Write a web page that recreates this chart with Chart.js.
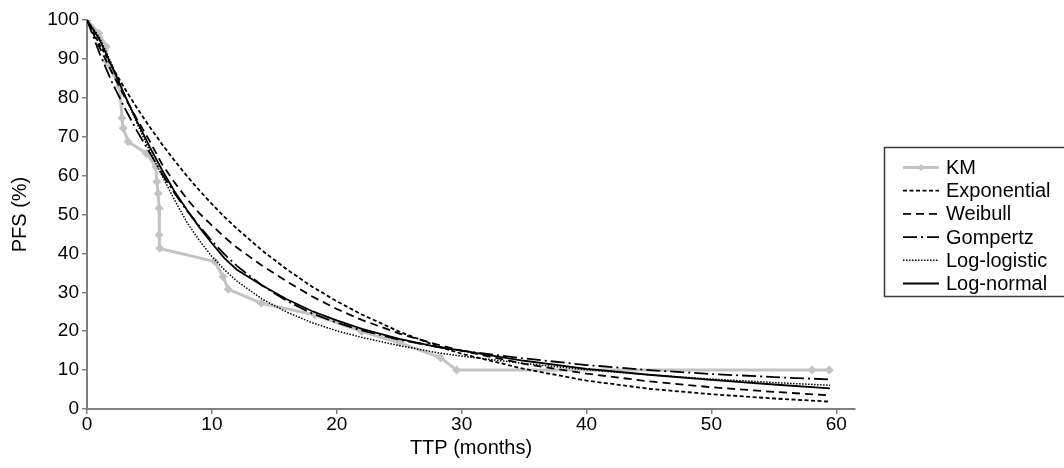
<!DOCTYPE html>
<html>
<head>
<meta charset="utf-8">
<title>PFS model fits</title>
<script src="https://cdn.jsdelivr.net/npm/chart.js@4.4.1/dist/chart.umd.min.js"></script>
<style>
  html, body { margin: 0; padding: 0; background: #ffffff; }
  #wrap { width: 1064px; height: 468px; position: relative; }
</style>
</head>
<body>
<div id="wrap"><canvas id="pfs"></canvas></div>
<script>
// Kaplan-Meier estimate (months, %)
const kmTime = [0, 0.95, 1.55, 1.57, 2.62, 2.8, 2.9, 3.3, 4.76, 5.5, 5.6, 5.7, 5.77, 5.77, 5.83, 10.23, 10.9, 11.3, 13.97, 18.25, 22.0, 25.05, 28.3, 29.6, 58.05, 59.45];
const kmPFS  = [100, 96.6, 93.1, 89.3, 82.9, 74.8, 72.2, 68.7, 65.7, 62.3, 58.4, 55.4, 51.6, 44.7, 41.3, 37.9, 34.0, 30.8, 27.2, 24.2, 19.9, 17.0, 13.2, 10.0, 10.0, 10.0];

// Time points at which the parametric fits are evaluated (months)
const fitTime = [0, 1, 2, 3, 4, 5, 6, 7, 8, 9, 10, 11, 12, 14, 16, 18, 20, 22, 25, 28, 30, 35, 40, 45, 50, 55, 59.5];

// Fitted PFS (%) for each parametric model
const exponentialPFS = [100, 93.8, 88.0, 82.5, 77.4, 72.6, 68.1, 63.9, 59.9, 56.2, 52.7, 49.4, 46.4, 40.8, 35.9, 31.5, 27.7, 24.3, 19.9, 16.2, 14.2, 10.3, 7.3, 5.2, 3.8, 2.7, 1.9];
const weibullPFS     = [100, 93.0, 86.5, 80.3, 74.5, 69.0, 63.0, 58.3, 54.0, 50.3, 47.2, 44.2, 41.5, 36.9, 32.8, 29.0, 25.7, 22.9, 19.4, 16.6, 15.0, 11.6, 9.1, 7.1, 5.6, 4.4, 3.5];
const gompertzPFS    = [100, 91.5, 84.0, 77.5, 71.5, 66.0, 60.5, 55.5, 51.0, 47.0, 43.2, 39.8, 36.8, 31.8, 27.8, 24.6, 22.2, 20.2, 17.8, 16.0, 15.0, 13.0, 11.3, 10.0, 9.0, 8.2, 7.6];
const logLogisticPFS = [100, 95.5, 88.5, 80.8, 73.5, 66.5, 60.0, 53.8, 48.0, 43.3, 39.2, 35.8, 32.9, 28.3, 24.9, 22.2, 20.1, 18.4, 16.3, 14.5, 13.6, 11.7, 10.1, 8.8, 7.7, 6.8, 6.1];
const logNormalPFS   = [100, 95.0, 88.0, 80.8, 74.0, 67.5, 61.5, 56.0, 51.2, 46.7, 42.6, 38.8, 35.8, 31.8, 28.2, 25.2, 22.8, 20.6, 18.0, 16.0, 15.0, 12.4, 10.3, 8.8, 7.5, 6.3, 5.3];

const xTicks = [0, 10, 20, 30, 40, 50, 60];
const yTicks = [0, 10, 20, 30, 40, 50, 60, 70, 80, 90, 100];

const FONT = '"Liberation Sans", Arial, Helvetica, sans-serif';
const AXIS_GREY = '#808080';

function pairs(xs, ys) { return xs.map((x, i) => ({ x: x, y: ys[i] })); }

function fitSet(label, values, dash, width) {
  return {
    label: label,
    data: pairs(fitTime, values),
    borderColor: '#000000',
    backgroundColor: '#000000',
    borderWidth: width,
    borderDash: dash,
    pointRadius: 0,
    pointHoverRadius: 0,
    tension: 0,
    order: 0
  };
}

const datasets = [
  {
    label: 'KM',
    data: pairs(kmTime, kmPFS),
    borderColor: '#c3c3c3',
    backgroundColor: '#c3c3c3',
    borderWidth: 3,
    pointStyle: 'rectRot',
    pointRadius: 4.5,
    pointBorderWidth: 0,
    pointHoverRadius: 4.5,
    tension: 0,
    order: 1
  },
  fitSet('Exponential', exponentialPFS, [4, 2.5], 1.8),
  fitSet('Weibull', weibullPFS, [8, 5], 1.8),
  fitSet('Gompertz', gompertzPFS, [14, 4, 2, 4], 1.8),
  fitSet('Log-logistic', logLogisticPFS, [1.5, 1.5], 1.5),
  fitSet('Log-normal', logNormalPFS, [], 1.8)
];

// Framed legend listing every series with its line style
const framedLegend = {
  id: 'framedLegend',
  afterDraw(chart) {
    const ctx = chart.ctx;
    ctx.save();
    ctx.setLineDash([]);
    ctx.strokeStyle = '#3a3a3a';
    ctx.lineWidth = 1.5;
    ctx.strokeRect(884.5, 147.5, 200, 149);
    chart.data.datasets.forEach((ds, i) => {
      const y = 167.5 + i * 23.2;
      ctx.save();
      ctx.strokeStyle = ds.borderColor;
      ctx.lineWidth = ds.borderWidth;
      ctx.setLineDash(ds.borderDash || []);
      ctx.beginPath();
      ctx.moveTo(903, y);
      ctx.lineTo(939, y);
      ctx.stroke();
      if (ds.pointRadius) {
        const r = ds.pointRadius * 0.8;
        ctx.setLineDash([]);
        ctx.fillStyle = ds.backgroundColor;
        ctx.beginPath();
        ctx.moveTo(921, y - r); ctx.lineTo(921 + r, y);
        ctx.lineTo(921, y + r); ctx.lineTo(921 - r, y);
        ctx.closePath();
        ctx.fill();
      }
      ctx.restore();
      ctx.fillStyle = '#000000';
      ctx.font = '20px ' + FONT;
      ctx.textBaseline = 'middle';
      ctx.textAlign = 'left';
      ctx.fillText(ds.label, 946, y + 1);
    });
    ctx.restore();
  }
};

new Chart(document.getElementById('pfs'), {
  type: 'line',
  data: { datasets: datasets },
  options: {
    responsive: true,
    maintainAspectRatio: false,
    animation: false,
    events: [],
    layout: { padding: { left: 0, right: 209, top: 20, bottom: 0 } },
    plugins: {
      legend: { display: false },
      tooltip: { enabled: false }
    },
    scales: {
      x: {
        type: 'linear',
        min: 0,
        max: 61.5,
        afterFit(scale) { scale.height = 59; },
        afterBuildTicks(scale) { scale.ticks = xTicks.map(v => ({ value: v })); },
        border: { display: true, color: AXIS_GREY, width: 2 },
        grid: { display: true, drawOnChartArea: false, drawTicks: true, tickLength: 5, color: AXIS_GREY, lineWidth: 1.5 },
        ticks: { color: '#000000', font: { family: FONT, size: 19 }, padding: -1, maxRotation: 0 },
        title: { display: true, text: 'TTP (months)', color: '#000000', font: { family: FONT, size: 20 }, padding: { top: 0, bottom: 8 } }
      },
      y: {
        min: 0,
        max: 100,
        afterFit(scale) { scale.width = 87; },
        afterBuildTicks(scale) { scale.ticks = yTicks.map(v => ({ value: v })); },
        border: { display: true, color: AXIS_GREY, width: 2 },
        grid: { display: true, drawOnChartArea: false, drawTicks: true, tickLength: 5, color: AXIS_GREY, lineWidth: 1.5 },
        ticks: { color: '#000000', font: { family: FONT, size: 19 }, padding: 3 },
        title: { display: true, text: 'PFS (%)', color: '#000000', font: { family: FONT, size: 20 }, padding: { top: 8, bottom: 0 } }
      }
    }
  },
  plugins: [framedLegend]
});
</script>
</body>
</html>
